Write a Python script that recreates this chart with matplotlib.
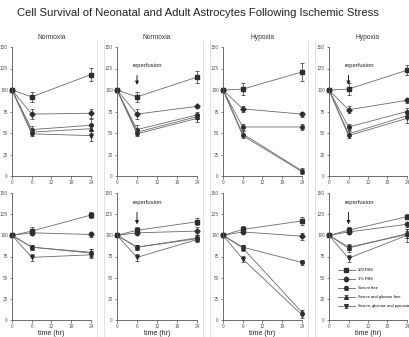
import numpy as np
import matplotlib
matplotlib.use("Agg")
import matplotlib.pyplot as plt
from matplotlib.lines import Line2D

plt.rcParams['font.family'] = ['Liberation Sans', 'DejaVu Sans']

# --- data ---
hours = [0, 6, 24]
series = ["10%FBS", "1% FBS", "Serum free", "Serum and glucose free",
          "Serum, glucose and pyruvate"]
markers = ["s", "D", "o", "^", "v"]
col_titles = ["Normoxia", "Normoxia", "Hypoxia", "Hypoxia"]
reperfusion = [False, True, False, True]

# neonatal (top row), one list per panel, one row per series
neo_normoxia = [[100, 92, 118], [100, 72, 73], [100, 54, 59], [100, 51, 55], [100, 49, 47]]
neo_normoxia_err = [[0, 6, 8], [0, 6, 5], [0, 4, 7], [0, 3, 5], [0, 3, 6]]
neo_normoxia_rep = [[100, 92, 115], [100, 72, 81], [100, 54, 71], [100, 51, 69], [100, 49, 67]]
neo_normoxia_rep_err = [[0, 6, 7], [0, 6, 2], [0, 5, 3], [0, 3, 3], [0, 3, 4]]
neo_hypoxia = [[100, 101, 121], [100, 78, 72], [100, 57, 57], [100, 49, 6], [100, 47, 5]]
neo_hypoxia_err = [[0, 7, 10], [0, 3, 3], [0, 3, 3], [0, 3, 3], [0, 3, 3]]
neo_hypoxia_rep = [[100, 101, 123], [100, 77, 88], [100, 57, 75], [100, 49, 70], [100, 47, 67]]
neo_hypoxia_rep_err = [[0, 7, 6], [0, 4, 3], [0, 3, 4], [0, 3, 3], [0, 3, 5]]

# adult (bottom row)
ad_normoxia = [[100, 105, 124], [100, 103, 101], [100, 86, 79], [100, 86, 80], [100, 74, 77]]
ad_normoxia_err = [[0, 5, 3], [0, 3, 3], [0, 3, 5], [0, 3, 4], [0, 4, 4]]
ad_normoxia_rep = [[100, 106, 116], [100, 103, 105], [100, 86, 97], [100, 86, 96], [100, 74, 95]]
ad_normoxia_rep_err = [[0, 4, 4], [0, 3, 5], [0, 3, 3], [0, 3, 3], [0, 4, 3]]
ad_hypoxia = [[100, 107, 117], [100, 104, 99], [100, 86, 68], [100, 85, 9], [100, 72, 6]]
ad_hypoxia_err = [[0, 4, 5], [0, 3, 4], [0, 3, 3], [0, 3, 3], [0, 4, 4]]
ad_hypoxia_rep = [[100, 106, 122], [100, 104, 113], [100, 86, 101], [100, 85, 102], [100, 73, 100]]
ad_hypoxia_rep_err = [[0, 4, 3], [0, 3, 3], [0, 3, 4], [0, 5, 5], [0, 4, 8]]

rows = [
    [(neo_normoxia, neo_normoxia_err), (neo_normoxia_rep, neo_normoxia_rep_err),
     (neo_hypoxia, neo_hypoxia_err), (neo_hypoxia_rep, neo_hypoxia_rep_err)],
    [(ad_normoxia, ad_normoxia_err), (ad_normoxia_rep, ad_normoxia_rep_err),
     (ad_hypoxia, ad_hypoxia_err), (ad_hypoxia_rep, ad_hypoxia_rep_err)],
]

# --- figure layout ---
W, H = 410, 337
fig = plt.figure(figsize=(W / 100, H / 100), dpi=100)

lefts = [12, 117, 223, 329]
rights = [91, 197, 302, 407]
row_y = [(47, 176), (193, 320)]  # pixel y of 150 and of 0

line_col = "#6a6a6a"
mark_col = "#2e2e2e"
axis_col = "#555555"

fig.text(198 / W, 1 - 13 / H, "Cell Survival of Neonatal and Adult Astrocytes Following Ischemic Stress",
         ha="center", va="center", fontsize=8.1, color="#222222")

# faint panel frames (only the vertical sides show in the reference)
for xs in [97, 104, 203, 210, 308, 315]:
    fig.add_artist(Line2D([xs / W, xs / W], [0, 1 - 40 / H], color="#dddddd", lw=0.6))

legend_handles = []
for r, row in enumerate(rows):
    ytop, ybot = row_y[r]
    for c, (vals, errs) in enumerate(row):
        ax = fig.add_axes([lefts[c] / W, 1 - ybot / H, (rights[c] - lefts[c]) / W, (ybot - ytop) / H])
        for k in range(len(series)):
            h = ax.errorbar(hours, vals[k], yerr=errs[k], color=line_col, lw=0.6,
                            marker=markers[k], ms=2.6, mfc=mark_col, mec=mark_col,
                            ecolor=mark_col, elinewidth=0.5, capsize=1.3, capthick=0.5,
                            clip_on=False, label=series[k])
            if r == 1 and c == 3:
                legend_handles.append(h)
        ax.set_xlim(0, 24)
        ax.set_ylim(0, 150)
        ax.set_xticks([0, 6, 12, 18, 24])
        ax.set_yticks([0, 25, 50, 75, 100, 125, 150])
        ax.tick_params(labelsize=3.4, length=1.8, width=0.5, pad=1.2, colors="#555555")
        for s in ["top", "right"]:
            ax.spines[s].set_visible(False)
        for s in ["left", "bottom"]:
            ax.spines[s].set_color(axis_col)
            ax.spines[s].set_linewidth(0.6)
        if r == 0:
            ax.set_title(col_titles[c], fontsize=4.8, pad=6, color="#333333")
        else:
            ax.set_xlabel("time (hr)", fontsize=5, labelpad=0.5, color="#222222")
        if reperfusion[c]:
            y_text, y0, y1 = (125, 117, 106) if r == 0 else (136, 127, 113)
            ax.text(4.8, y_text, "reperfusion", ha="left", va="bottom", fontsize=4.2,
                    color="#222222")
            ax.annotate("", xy=(6, y1), xytext=(6, y0),
                        arrowprops=dict(arrowstyle="-|>", color="#222222", lw=0.7,
                                        mutation_scale=5, shrinkA=0, shrinkB=0))
        if r == 1 and c == 3:
            ax.legend(handles=legend_handles, loc="lower left", bbox_to_anchor=(0.09, 0.08),
                      frameon=False, fontsize=2.9, handlelength=4.2, labelspacing=1.25,
                      handletextpad=0.9, borderaxespad=0)

fig.savefig("out.png", dpi=100)
